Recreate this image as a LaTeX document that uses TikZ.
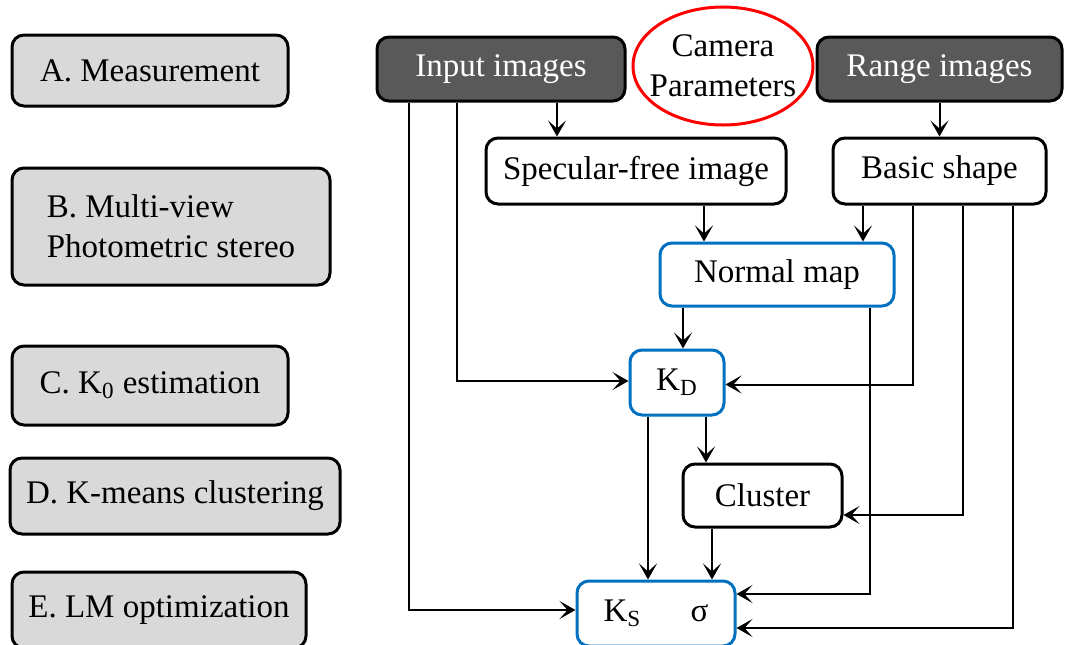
\documentclass[tikz,border=0pt]{standalone}
\usepackage{fontspec}
\setmainfont{Liberation Serif}
\usepackage{tikz}
\usetikzlibrary{arrows.meta,positioning,calc,shapes.geometric}
\definecolor{stagegray}{HTML}{D9D9D9}
\definecolor{inputgray}{HTML}{595959}
\definecolor{estblue}{HTML}{0070C0}

\begin{document}
\begin{tikzpicture}[x=0.5pt,y=-0.5pt]
\tikzset{every node/.style={font=\fontsize{16.5}{20}\selectfont,inner sep=0pt}}
\tikzset{stage/.style={draw,line width=1.5pt,rounded corners=6pt,fill=stagegray}}
\tikzset{source/.style={draw,line width=1.5pt,rounded corners=6pt,fill=inputgray,text=white}}
\tikzset{result/.style={draw,line width=1.5pt,rounded corners=6pt,fill=white}}
\tikzset{estimate/.style={draw=estblue,line width=1.5pt,rounded corners=6pt,fill=white}}
\tikzset{flow/.style={line width=1pt,-{Stealth[length=8pt,width=9pt,inset=4pt]}}}
\useasboundingbox (0,0) rectangle (1067,644);
% stages on the left
\node [stage,minimum width=138pt,minimum height=35.5pt] (sa) at (150,70.5) {A. Measurement};
\node [stage,minimum width=159pt,minimum height=58.5pt,align=left] (sb) at (171,226.5) {B. Multi-view\\Photometric stereo};
\node [stage,minimum width=138pt,minimum height=39.5pt] (sc) at (150,385.5) {C. K\textsubscript{0} estimation};
\node [stage,minimum width=165pt,minimum height=38pt] (sd) at (175,496) {D. K-means clustering};
\node [stage,minimum width=147pt,minimum height=38pt] (se) at (159,610) {E. LM optimization};
% flow chart
\node [source,minimum width=124pt,minimum height=32pt] (in) at (501,69) {Input images};
\node [source,minimum width=122.5pt,minimum height=32pt] (range) at (939.5,69) {Range images};
\node [ellipse,draw=red,line width=1.5pt,inner xsep=-9pt,inner ysep=0pt,minimum width=90pt,minimum height=59pt,align=center] (cam) at (723,66) {Camera\\Parameters};
\node [result,minimum width=150pt,minimum height=33pt] (spec) at (636,171) {Specular-free image};
\node [result,minimum width=106.5pt,minimum height=33pt] (basic) at (939.5,171) {Basic shape};
\node [estimate,minimum width=117pt,minimum height=31.5pt] (normal) at (777,274.5) {Normal map};
\node [estimate,minimum width=47pt,minimum height=32.5pt] (kd) at (677,382.5) {K\textsubscript{D}};
\node [result,minimum width=79.5pt,minimum height=31.5pt] (cluster) at (762.5,495.5) {Cluster};
\node [estimate,minimum width=79pt,minimum height=32.5pt] (ks) at (656,613.5) {K\textsubscript{S}\hspace{1.5em}σ};

\draw [flow] ([xshift=28pt]in.south) -- ([xshift=28pt]in.south |- spec.north);
\draw [flow] (range.south) -- (basic.north);
\draw [flow] ([xshift=34pt]spec.south) -- ([xshift=34pt]spec.south |- normal.north);
\draw [flow] ([xshift=-38.25pt]basic.south) -- ([xshift=-38.25pt]basic.south |- normal.north);
\draw [flow] ([xshift=-13.25pt]basic.south) |- ([yshift=-1pt]kd.east);
\draw [flow] ([xshift=11.75pt]basic.south) |- ([yshift=-9.75pt]cluster.east);
\draw [flow] ([xshift=36.75pt]basic.south) |- ([yshift=-7.25pt]ks.east);
\draw [flow] ([xshift=-47pt]normal.south) -- ([xshift=-47pt]normal.south |- kd.north);
\draw [flow] ([xshift=46.5pt]normal.south) |- ([yshift=9.75pt]ks.east);
\draw [flow] ([xshift=-22pt]in.south) |- ([yshift=0.75pt]kd.west);
\draw [flow] ([xshift=-46pt]in.south) |- ([yshift=1.75pt]ks.west);
\draw [flow] ([xshift=-14.5pt]kd.south) -- ([xshift=-14.5pt]kd.south |- ks.north);
\draw [flow] ([xshift=14.5pt]kd.south) -- ([xshift=14.5pt]kd.south |- cluster.north);
\draw [flow] ([xshift=-25.25pt]cluster.south) -- ([xshift=-25.25pt]cluster.south |- ks.north);
\end{tikzpicture}
\end{document}
